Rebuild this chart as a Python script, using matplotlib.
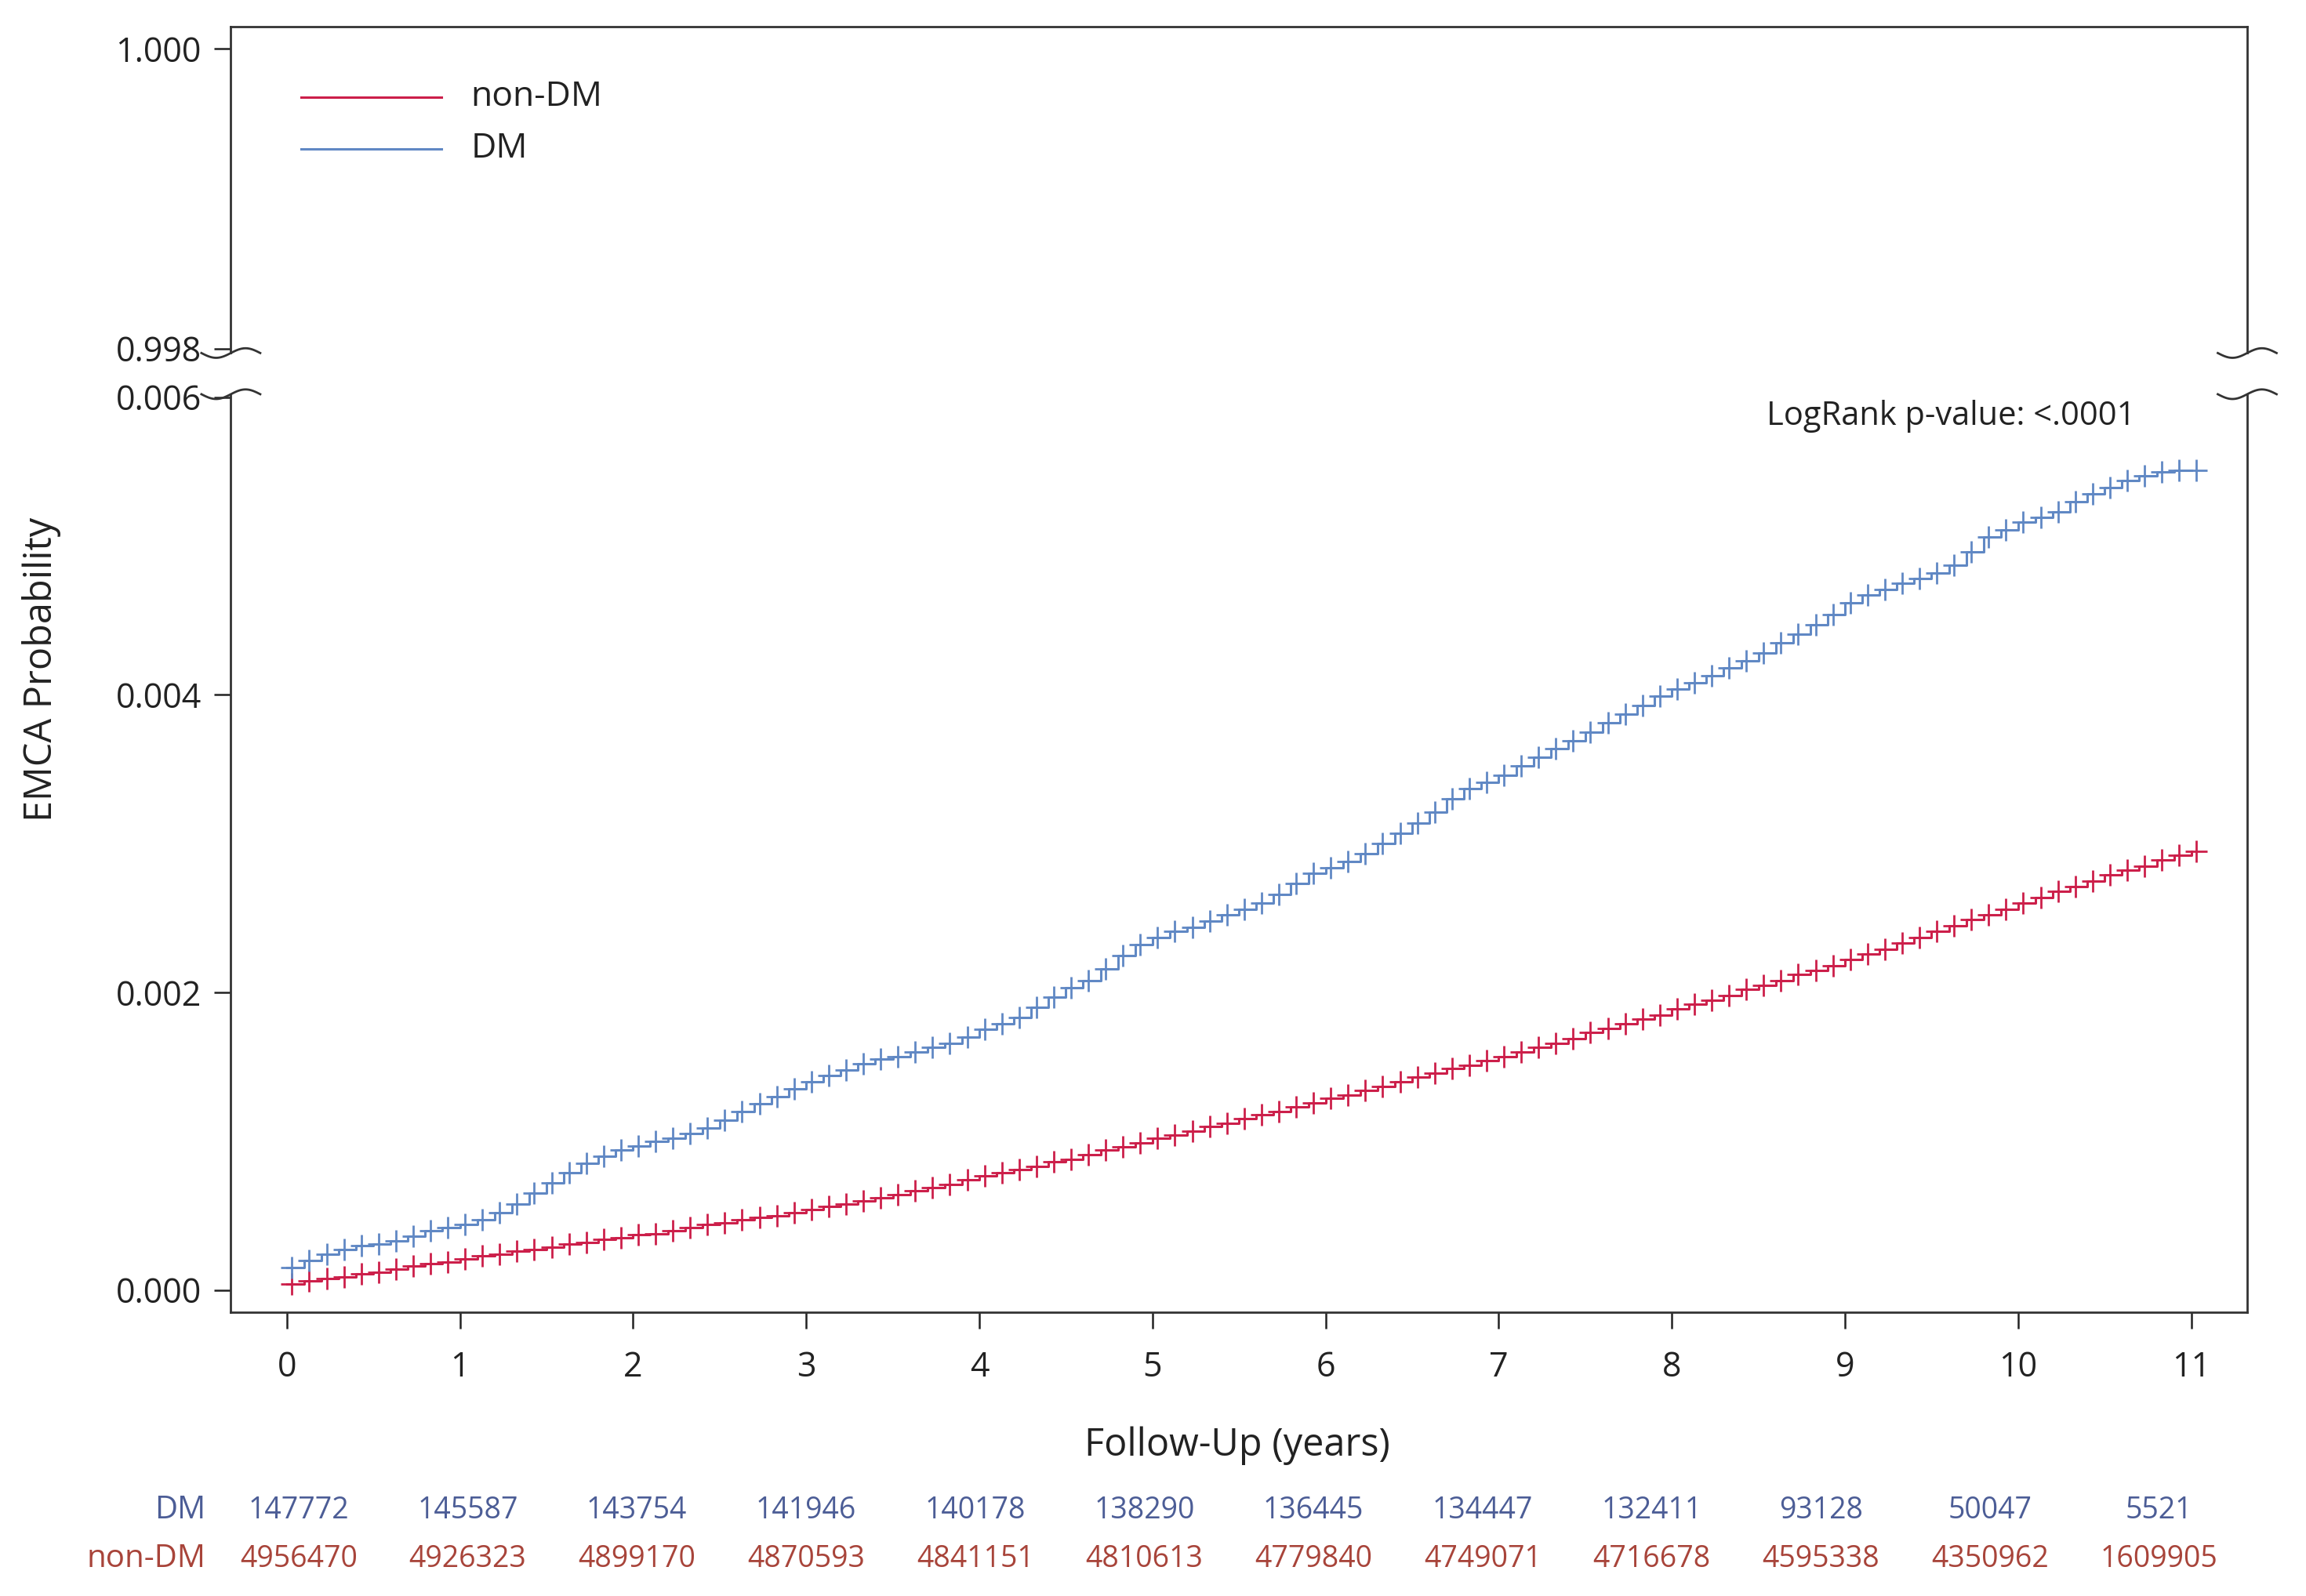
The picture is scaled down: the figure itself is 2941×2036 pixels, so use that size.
import numpy as np
import matplotlib
matplotlib.use('Agg')
import matplotlib.pyplot as plt
from matplotlib.lines import Line2D
from matplotlib.transforms import blended_transform_factory

plt.rcParams['font.family'] = ['Open Sans', 'DejaVu Sans']

# step times (years), one step every 0.1 year
times = np.arange(111) / 10

dm_prob = [
    0.00015, 0.00020, 0.00024, 0.00027, 0.00030, 0.00031, 0.00033, 0.00036, 0.00040, 0.00042,
    0.00044, 0.00047, 0.00052, 0.00058, 0.00065, 0.00072, 0.00079, 0.00085, 0.00090, 0.00094,
    0.00097, 0.00100, 0.00102, 0.00105, 0.00109, 0.00114, 0.00120, 0.00125, 0.00130, 0.00135,
    0.00140, 0.00144, 0.00148, 0.00152, 0.00155, 0.00157, 0.00160, 0.00163, 0.00166, 0.00170,
    0.00175, 0.00179, 0.00183, 0.00190, 0.00197, 0.00203, 0.00208, 0.00216, 0.00225, 0.00232,
    0.00237, 0.00241, 0.00244, 0.00248, 0.00252, 0.00256, 0.00260, 0.00266, 0.00273, 0.00280,
    0.00284, 0.00288, 0.00293, 0.00300, 0.00307, 0.00314, 0.00321, 0.00330, 0.00337, 0.00341,
    0.00346, 0.00352, 0.00358, 0.00364, 0.00369, 0.00375, 0.00381, 0.00387, 0.00393, 0.00399,
    0.00404, 0.00408, 0.00413, 0.00418, 0.00423, 0.00428, 0.00435, 0.00441, 0.00447, 0.00454,
    0.00462, 0.00467, 0.00471, 0.00475, 0.00478, 0.00482, 0.00487, 0.00496, 0.00506, 0.00511,
    0.00516, 0.00519, 0.00523, 0.00530, 0.00535, 0.00539, 0.00544, 0.00547, 0.00550, 0.00551,
    0.00551,
]

nondm_prob = [
    0.00004, 0.00006, 0.00008, 0.00009, 0.00011, 0.00012, 0.00014, 0.00016, 0.00018, 0.00019,
    0.00021, 0.00023, 0.00024, 0.00026, 0.00027, 0.00029, 0.00031, 0.00032, 0.00034, 0.00035,
    0.00037, 0.00038, 0.00040, 0.00042, 0.00044, 0.00045, 0.00047, 0.00049, 0.00050, 0.00052,
    0.00054, 0.00056, 0.00058, 0.00060, 0.00062, 0.00064, 0.00067, 0.00069, 0.00071, 0.00074,
    0.00077, 0.00079, 0.00081, 0.00083, 0.00086, 0.00088, 0.00091, 0.00094, 0.00096, 0.00099,
    0.00102, 0.00104, 0.00107, 0.00110, 0.00112, 0.00115, 0.00118, 0.00120, 0.00123, 0.00126,
    0.00129, 0.00131, 0.00134, 0.00137, 0.00140, 0.00143, 0.00146, 0.00149, 0.00151, 0.00154,
    0.00157, 0.00160, 0.00163, 0.00166, 0.00169, 0.00173, 0.00176, 0.00179, 0.00182, 0.00185,
    0.00189, 0.00192, 0.00195, 0.00198, 0.00202, 0.00205, 0.00208, 0.00212, 0.00215, 0.00218,
    0.00222, 0.00226, 0.00229, 0.00233, 0.00237, 0.00241, 0.00245, 0.00249, 0.00252, 0.00256,
    0.00260, 0.00264, 0.00268, 0.00271, 0.00275, 0.00279, 0.00282, 0.00285, 0.00289, 0.00292,
    0.00295,
]

risk_years = list(range(12))
dm_at_risk = [147772, 145587, 143754, 141946, 140178, 138290, 136445, 134447, 132411, 93128, 50047, 5521]
nondm_at_risk = [4956470, 4926323, 4899170, 4870593, 4841151, 4810613, 4779840, 4749071, 4716678, 4595338, 4350962, 1609905]

col_dm = '#6088c4'
col_nondm = '#cc1f4a'
txt_dm = '#4c5d96'
txt_nondm = '#a8443a'
ink = '#222222'

fig = plt.figure(figsize=(29.41, 20.36), dpi=100)
left, right = 0.1001, 0.9745
top_bot, low_top = 0.7788, 0.7530
ax_top = fig.add_axes([left, top_bot, right - left, 0.9834 - top_bot])
ax = fig.add_axes([left, 0.1779, right - left, low_top - 0.1779])

fs = 31
for a in (ax_top, ax):
    a.set_xlim(-0.323, 11.323)
    for s in a.spines.values():
        s.set_linewidth(2.0)
        s.set_color('#333333')
    a.tick_params(axis='both', direction='out', length=15, width=1.8,
                  colors=ink, labelsize=fs)

ax_top.set_ylim(0.99797, 1.000147)
ax_top.set_yticks([0.998, 1.000])
ax_top.set_yticklabels(['0.998', '1.000'])
ax_top.spines['bottom'].set_visible(False)
ax_top.tick_params(axis='x', bottom=False, labelbottom=False)
ax_top.tick_params(axis='y', pad=12)

ax.set_ylim(-0.000148, 0.00602)
ax.set_yticks([0.0, 0.002, 0.004, 0.006])
ax.set_yticklabels(['0.000', '0.002', '0.004', '0.006'])
ax.spines['top'].set_visible(False)
ax.set_xticks(range(12))
ax.tick_params(axis='x', pad=20)
ax.tick_params(axis='y', pad=12)

# curves
ax.step(times, nondm_prob, where='post', color=col_nondm, lw=2.2)
ax.step(times, dm_prob, where='post', color=col_dm, lw=2.2)
ax.plot(times + 0.03, nondm_prob, ls='none', marker='+', ms=20, mew=2.0, color=col_nondm)
ax.plot(times + 0.03, dm_prob, ls='none', marker='+', ms=20, mew=2.0, color=col_dm)

# legend in the upper panel
for yy, c, lab in [(0.784, col_nondm, 'non-DM'), (0.626, col_dm, 'DM')]:
    ax_top.add_line(Line2D([0.035, 0.1043], [yy, yy], color=c, lw=2.2,
                           transform=ax_top.transAxes))
    ax_top.text(0.1189, yy, lab, transform=ax_top.transAxes, ha='left', va='center',
                fontsize=32, color=ink)

ax.text(0.9446, 0.976, 'LogRank p-value: <.0001', transform=ax.transAxes,
        ha='right', va='center', fontsize=30, color=ink)

# axis break marks
sq = np.linspace(-1, 1, 40)
for xc in (left, right):
    for yc in (top_bot, low_top):
        xs = xc + sq * 20 / 1568
        ys = yc + 0.003 * np.sin(sq * np.pi)
        fig.add_artist(Line2D(xs, ys, color='#333333', lw=2.0, transform=fig.transFigure))

fig.text(0.0179, 0.5806, 'EMCA Probability', rotation=90, ha='center', va='center',
         fontsize=35, color=ink)
fig.text(0.5364, 0.0940, 'Follow-Up (years)', ha='center', va='center',
         fontsize=35, color=ink)

# numbers at risk (table is slightly narrower than the tick span)
tr = blended_transform_factory(ax.transData, fig.transFigure)
fig.text(0.0893, 0.0535, 'DM', ha='right', va='center', fontsize=29, color=txt_dm)
fig.text(0.0893, 0.0230, 'non-DM', ha='right', va='center', fontsize=29, color=txt_nondm)
for yr, n_dm, n_non in zip(risk_years, dm_at_risk, nondm_at_risk):
    xr = 0.068 + 0.977 * yr
    ax.text(xr, 0.0535, str(n_dm), transform=tr, ha='center', va='center',
            fontsize=27, color=txt_dm)
    ax.text(xr, 0.0230, str(n_non), transform=tr, ha='center', va='center',
            fontsize=27, color=txt_nondm)

fig.savefig('out.png', dpi=100, facecolor='white')
